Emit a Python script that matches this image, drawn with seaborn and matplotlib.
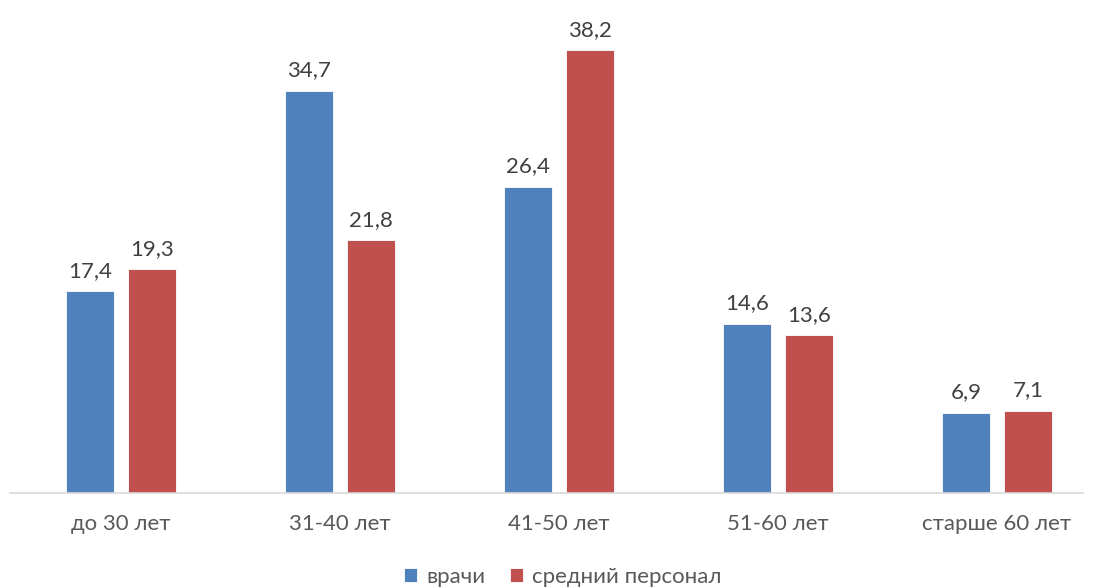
import pandas as pd
import matplotlib
matplotlib.use("Agg")
import matplotlib.pyplot as plt
import seaborn as sns

# data
groups = ["до 30 лет", "31-40 лет", "41-50 лет", "51-60 лет", "старше 60 лет"]
doctors = [17.4, 34.7, 26.4, 14.6, 6.9]
nurses = [19.3, 21.8, 38.2, 13.6, 7.1]
series_names = ["врачи", "средний персонал"]
colors = ["#4F81BD", "#C0504D"]

df = pd.DataFrame({
    "group": groups * 2,
    "value": doctors + nurses,
    "series": [series_names[0]] * len(groups) + [series_names[1]] * len(groups),
})

sns.set_style("white")
plt.rcParams["font.family"] = ["Lato", "DejaVu Sans"]
text_color = "#595959"

fig = plt.figure(figsize=(10.93, 5.88), dpi=100)
ax = fig.add_axes([10 / 1093, 1 - 493 / 588, 1073 / 1093, 487 / 588])

sns.barplot(data=df, x="group", y="value", hue="series", order=groups,
            hue_order=series_names, palette=colors, width=0.566, gap=0.226,
            saturation=1, edgecolor="white", linewidth=0.6, ax=ax)

ax.set_ylim(0, 42)
ax.set_xlim(-0.507, 4.393)
ax.set_xlabel("")
ax.set_ylabel("")
ax.set_yticks([])
for side in ["left", "right", "top"]:
    ax.spines[side].set_visible(False)
ax.spines["bottom"].set_color("#D9D9D9")
ax.spines["bottom"].set_linewidth(1.2)
ax.tick_params(axis="x", length=0, pad=15, labelsize=16, labelcolor=text_color)

for cont in ax.containers:
    ax.bar_label(cont, labels=[f"{v:.1f}".replace(".", ",") for v in cont.datavalues],
                 padding=7.5, fontsize=16, color="#404040")

leg = ax.legend(loc="center", bbox_to_anchor=(0.515, -0.172), ncol=2, frameon=False,
                fontsize=16, handlelength=0.6, handleheight=0.6, handletextpad=0.4,
                columnspacing=1.1)
for t in leg.get_texts():
    t.set_color(text_color)

fig.savefig("out.png", dpi=100)
